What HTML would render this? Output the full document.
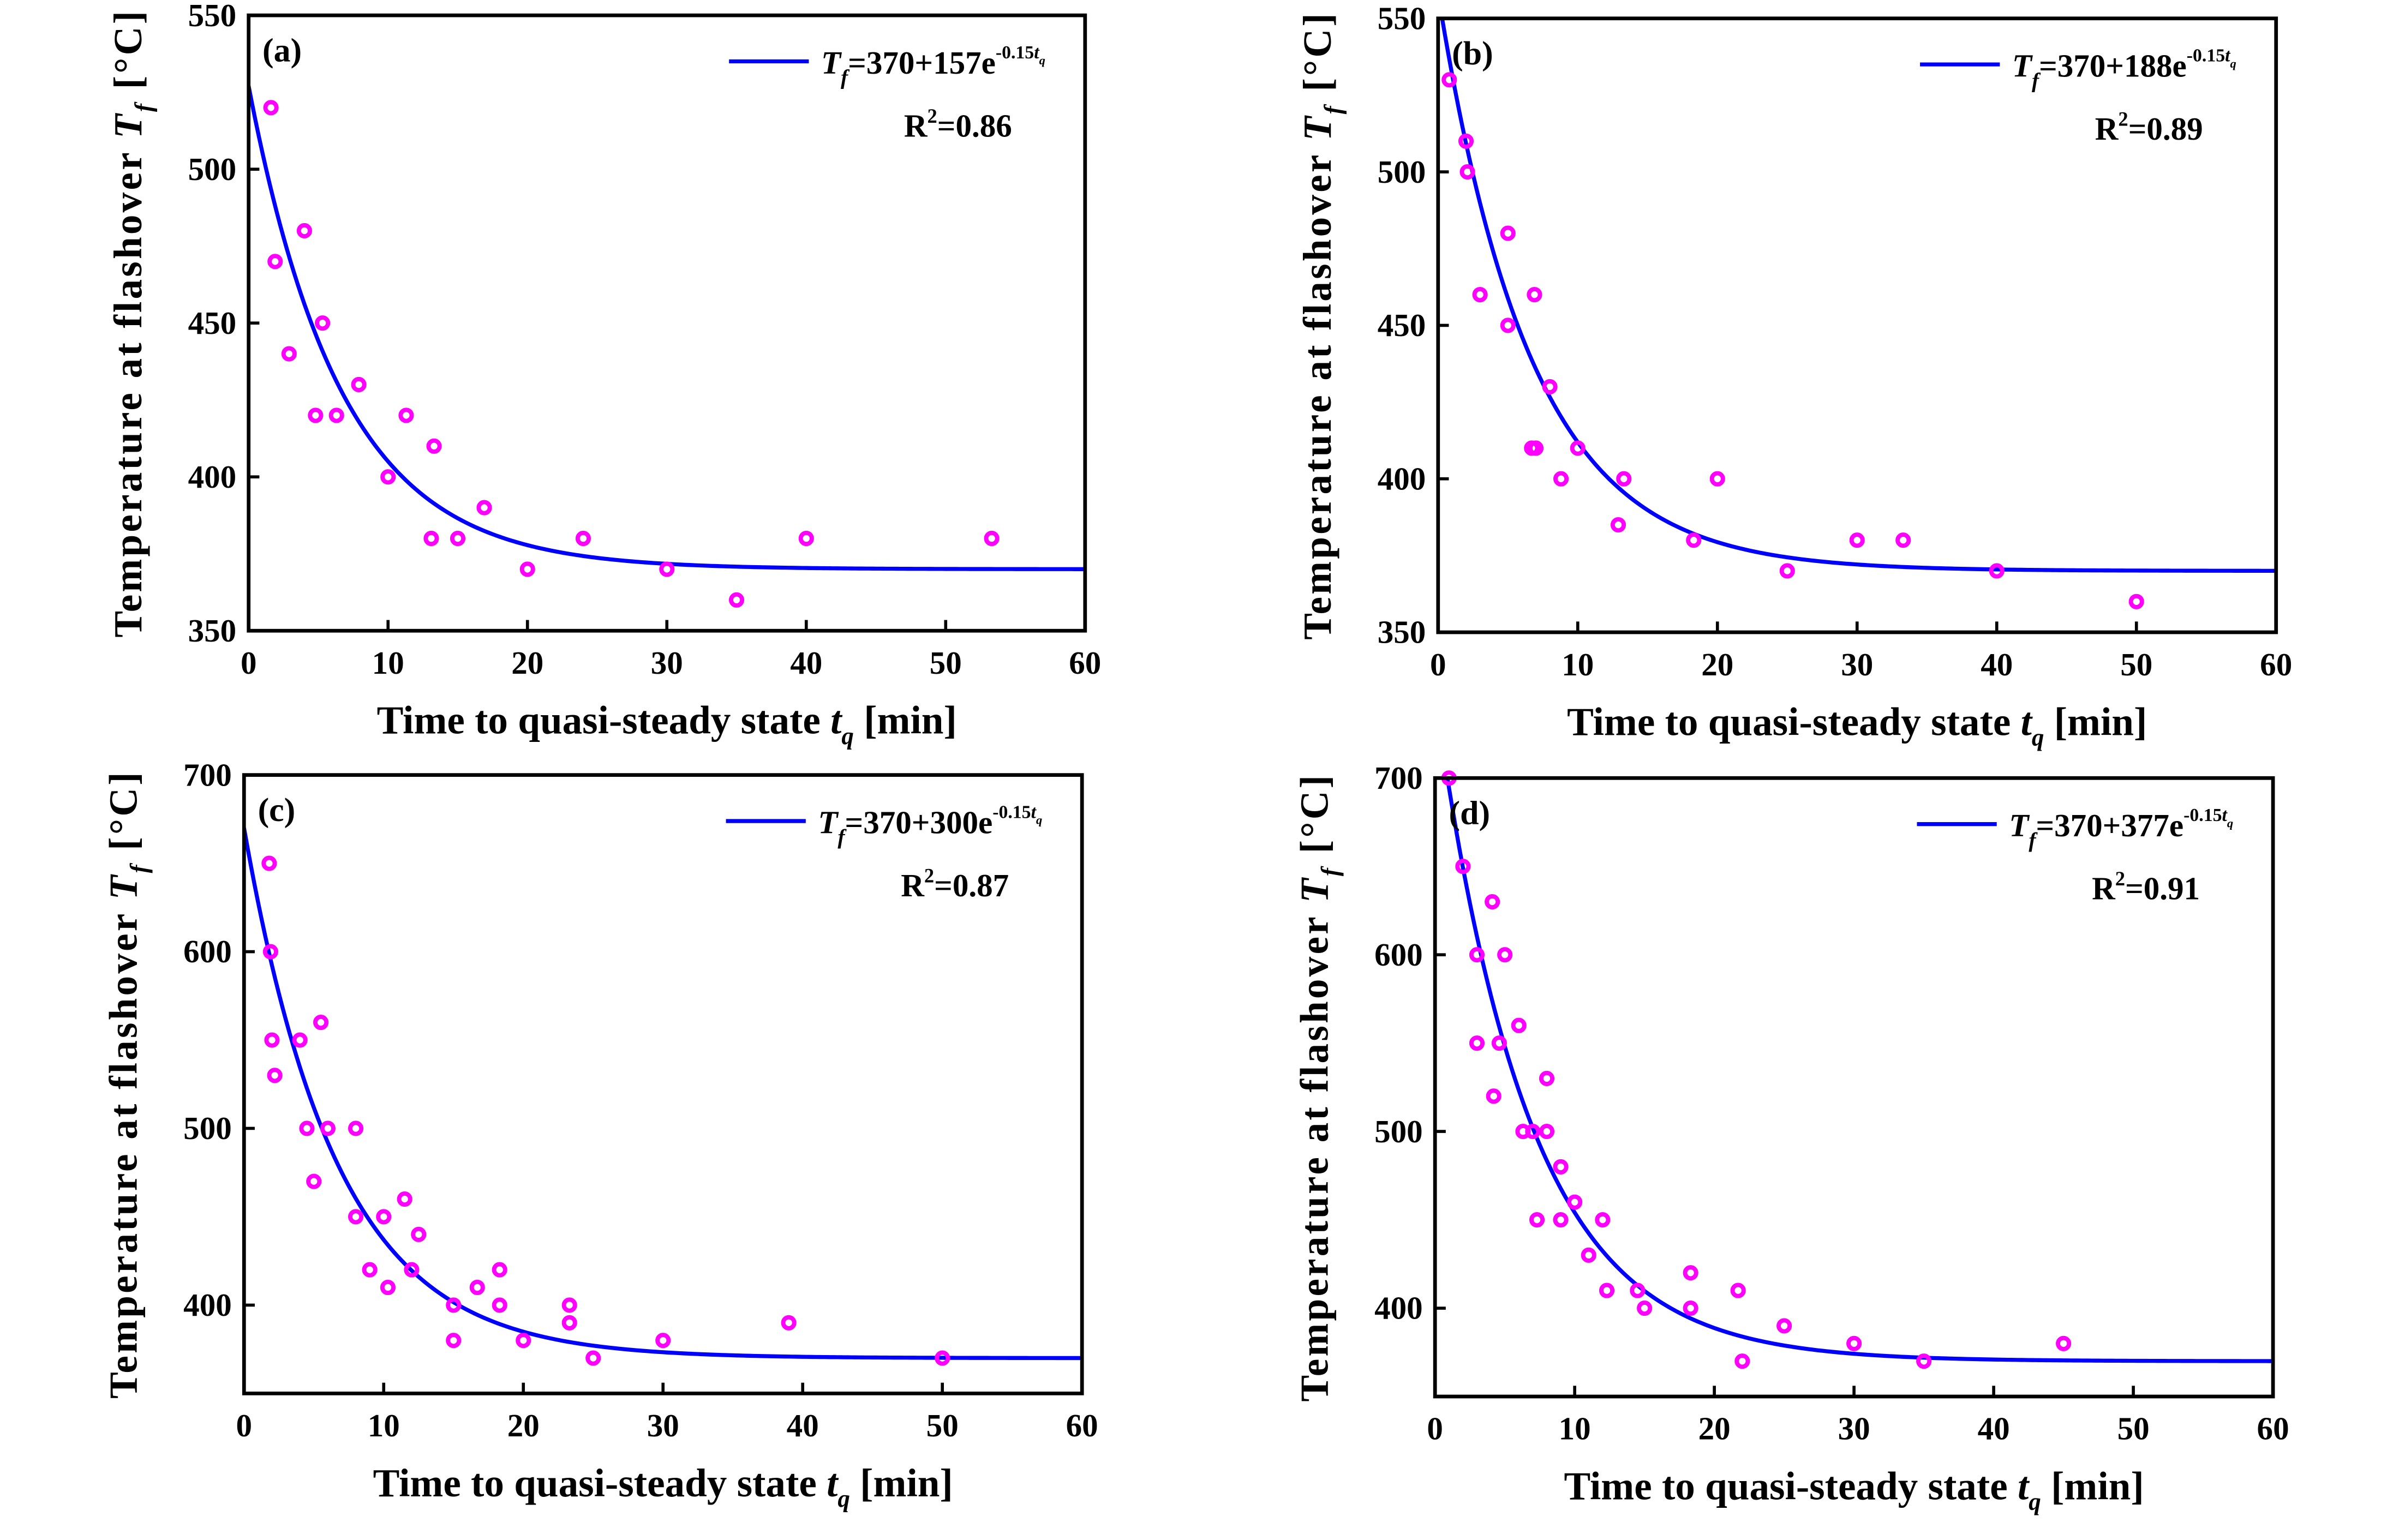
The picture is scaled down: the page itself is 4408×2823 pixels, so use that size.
<!DOCTYPE html>
<html><head><meta charset="utf-8"><style>
html,body{margin:0;padding:0;background:#fff}
svg{display:block}
text{font-family:"Liberation Serif",serif;font-weight:bold;fill:#000}
</style></head><body>
<svg id="chart" width="4408" height="2823" viewBox="0 0 1567 1003.5" preserveAspectRatio="none" xmlns="http://www.w3.org/2000/svg"></svg>
<script>
const xTicks = [0,10,20,30,40,50,60];
const labelsP = ["(a)","(b)","(c)","(d)"];
const coefA = [157,188,300,377];
const r2Vals = ["0.86","0.89","0.87","0.91"];
const yTicksAB = [350,400,450,500,550];
const yTicksCD = [400,500,600,700];
const aX = [1.6,1.9,2.9,4,4.8,5.3,6.3,7.9,10,11.3,13.1,13.3,15,16.9,20,24,30,35,40,53.3];
const aY = [520,470,440,480,420,450,420,430,400,420,380,410,380,390,370,380,370,360,380,380];
const bX = [0.8,2,2.1,3,5,5,6.7,6.9,7,8,8.8,10,12.9,13.3,18.3,20,25,30,33.3,40,50];
const bY = [530,510,500,460,480,450,410,460,410,430,400,410,385,400,380,400,370,380,380,370,360];
const cX = [1.8,1.9,2,2.2,4,4.5,5,5.5,6,8,8,9,10,10.3,11.5,12,12.5,15,15,16.7,18.3,18.3,20,23.3,23.3,25,30,39,50];
const cY = [650,600,550,530,550,500,470,560,500,500,450,420,450,410,460,420,440,400,380,410,420,400,380,400,390,370,380,390,370];
const dX = [1,2,3,3,4.1,4.2,4.6,5,6,6.3,7,7.3,8,8,9,9,10,11,12,12.3,14.5,15,18.3,18.3,21.7,22,25,30,35,45];
const dY = [700,650,600,550,630,520,550,600,560,500,500,450,530,500,480,450,460,430,450,410,410,400,420,400,410,370,390,380,370,380];

const svg = document.getElementById('chart');
const NS = 'http://www.w3.org/2000/svg';
function mk(tag, attrs, parent){const e=document.createElementNS(NS,tag);for(const k in attrs)e.setAttribute(k,attrs[k]);(parent||svg).appendChild(e);return e;}

const panels = [
 {x0:162,x1:707,y0:10,y1:411,ymin:350,ymax:550,ticks:yTicksAB,xs:aX,ys:aY},
 {x0:937,x1:1483,y0:12,y1:412,ymin:350,ymax:550,ticks:yTicksAB,xs:bX,ys:bY},
 {x0:159,x1:705,y0:505,y1:908,ymin:350,ymax:700,ticks:yTicksCD,xs:cX,ys:cY},
 {x0:935,x1:1481,y0:507,y1:910,ymin:350,ymax:700,ticks:yTicksCD,xs:dX,ys:dY}
];

panels.forEach((p,i)=>{
  const g = mk('g',{});
  
  
  const sx = v => p.x0 + (v-0)/(60-0)*(p.x1-p.x0);
  const sy = v => p.y1 - (v-p.ymin)/(p.ymax-p.ymin)*(p.y1-p.y0);
  const cid='clip'+i;
  const cp = mk('clipPath',{id:cid},g);
  mk('rect',{x:p.x0,y:p.y0,width:p.x1-p.x0,height:p.y1-p.y0},cp);
  let d='';
  for(let t=0;t<=60;t+=0.25){const v=370+coefA[i]*Math.exp(-0.15*t);d+=(t===0?'M':'L')+sx(t).toFixed(2)+','+sy(v).toFixed(2);}
  const curve = mk('path',{d:d,fill:'none',stroke:'#0000ff','stroke-width':2.6,'clip-path':'url(#'+cid+')'},g);
  
  
  p.xs.forEach((xv,k)=>{
    const c = mk('circle',{cx:sx(xv),cy:sy(p.ys[k]),r:3.6,fill:'none',stroke:'#ff00ff','stroke-width':2.8},g);
    
    
  });
  const fr = mk('rect',{x:p.x0,y:p.y0,width:p.x1-p.x0,height:p.y1-p.y0,fill:'none',stroke:'#000','stroke-width':2.4},g);
  
  
  xTicks.forEach(t=>{
    mk('line',{x1:sx(t),x2:sx(t),y1:p.y1,y2:p.y1-7,stroke:'#000','stroke-width':2},g);
    const tx = mk('text',{x:sx(t),y:p.y1+28,'text-anchor':'middle','font-size':21},g);
    tx.textContent=t;
    
    
  });
  p.ticks.forEach(t=>{
    mk('line',{x1:p.x0,x2:p.x0+7,y1:sy(t),y2:sy(t),stroke:'#000','stroke-width':2},g);
    const ty = mk('text',{x:p.x0-8,y:sy(t)+7,'text-anchor':'end','font-size':21},g);
    ty.textContent=t;
    
    
  });
  const xt = mk('text',{x:(p.x0+p.x1)/2,y:p.y1+67,'text-anchor':'middle','font-size':26},g);
  xt.innerHTML='Time to quasi-steady state <tspan font-style="italic">t</tspan><tspan font-style="italic" font-size="16" dy="7">q</tspan><tspan dy="-7"> [min]</tspan>';
  
  
  const cy=(p.y0+p.y1)/2, cx=p.x0-70;
  const yt = mk('text',{x:cx,y:cy,'text-anchor':'middle','font-size':26,'letter-spacing':1.5,transform:'rotate(-90 '+cx+' '+cy+')'},g);
  yt.innerHTML='Temperature at flashover <tspan font-style="italic">T</tspan><tspan font-style="italic" font-size="16" dy="7">f</tspan><tspan dy="-7"> [°C]</tspan>';
  
  
  const pl = mk('text',{x:p.x0+9,y:p.y0+30,'font-size':22},g);
  pl.textContent=labelsP[i];
  
  
  const lx=p.x1-232, ly=p.y0+30;
  const ll = mk('line',{x1:lx,x2:lx+52,y1:ly,y2:ly,stroke:'#0000ff','stroke-width':2.6},g);
  
  
  const lt = mk('text',{x:lx+60,y:ly+8,'font-size':21},g);
  lt.innerHTML='<tspan font-style="italic">T</tspan><tspan font-style="italic" font-size="14" dy="7">f</tspan><tspan dy="-7">=370+'+coefA[i]+'e</tspan><tspan font-size="12" dy="-10">-0.15<tspan font-style="italic">t</tspan></tspan><tspan font-size="8" font-style="italic" dy="4">q</tspan>';
  
  
  const rt = mk('text',{x:p.x1-118,y:p.y0+79,'font-size':21},g);
  rt.innerHTML='R<tspan font-size="13" dy="-9">2</tspan><tspan dy="9">='+r2Vals[i]+'</tspan>';
  
  
});
</script>
</body></html>
